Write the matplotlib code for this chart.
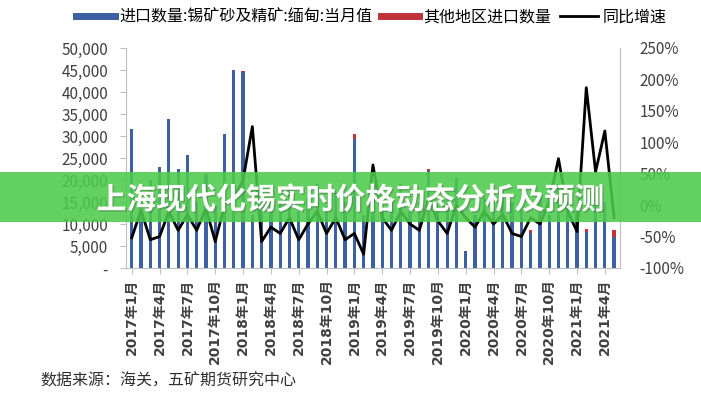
import numpy as np
import matplotlib.pyplot as plt
import matplotlib.patheffects as pe
from matplotlib.patches import Rectangle
from matplotlib.ticker import FuncFormatter

plt.rcParams['font.family'] = ['Noto Sans CJK SC', 'DejaVu Sans']

# monthly data 2017-01 .. 2021-05
months = [f"{y}年{m}月" for y in range(2017, 2022) for m in range(1, 13)][:53]
myanmar = [31600, 13000, 20000, 23000, 33900, 22400, 25700, 15000, 21300, 14000,
           30400, 44900, 44500, 12000, 18000, 14000, 15000, 18000, 13000, 16000,
           19000, 14000, 17000, 15000, 29300, 12000, 18000, 14000, 16000, 19000,
           13000, 15000, 22000, 14000, 17000, 20500, 3900, 12000, 16000, 14000,
           18000, 15000, 13000, 8000, 16000, 12000, 19000, 14000, 13000, 8200,
           17000, 15000, 7000]
others = [0, 0, 0, 0, 0, 0, 0, 0, 0, 0,
          0, 0, 300, 0, 0, 0, 0, 0, 0, 0,
          0, 0, 0, 0, 1200, 0, 0, 0, 0, 0,
          0, 0, 600, 0, 0, 0, 0, 0, 0, 0,
          0, 0, 0, 600, 0, 0, 0, 0, 0, 600,
          0, 0, 1600]
yoy = [-52, -8, -55, -50, -10, -40, -15, -40, -5, -58,
       0, 10, 40, 125, -58, -35, -45, -20, -55, -30,
       -10, -45, -20, -55, -45, -78, 64, -20, -40, -10,
       -30, -40, 10, -25, -45, 0, -20, -35, -10, -30,
       -15, -45, -50, -20, -30, 5, 74, -10, -42, 187,
       53, 118, -20]

x = np.arange(len(months))
blue = '#3D5FA3'
red = '#C0323C'

fig = plt.figure(figsize=(7.01, 4.0), dpi=100)
ax = fig.add_axes([0.18, 0.33, 0.704, 0.55])
ax.bar(x, myanmar, width=0.35, color=blue, zorder=2)
ax.bar(x, others, width=0.35, bottom=myanmar, color=red, zorder=2)
ax.set_xlim(-0.6, len(months) - 0.4)
ax.set_ylim(0, 50000)
ax.set_yticks(np.arange(0, 50001, 5000))
ax.yaxis.set_major_formatter(FuncFormatter(lambda v, p: '-' if v == 0 else f'{int(v):,}'))
ax.set_xticks(x[::3])
ax.set_xticklabels(months[::3], rotation=90, fontsize=10, color='#404040',
                   family=['DejaVu Sans', 'Noto Sans CJK SC'], fontweight='bold')
ax.tick_params(axis='y', labelsize=11, colors='#404040', length=4, color='#bfbfbf', pad=9)
ax.tick_params(axis='x', length=4, color='#bfbfbf')
for s in ['top', 'right']:
    ax.spines[s].set_visible(False)
for s in ['left', 'bottom']:
    ax.spines[s].set_color('#bfbfbf')

ax2 = ax.twinx()
ln, = ax2.plot(x, yoy, color='black', lw=2, zorder=3)
ax2.set_ylim(-100, 250)
ax2.set_yticks(np.arange(-100, 251, 50))
ax2.yaxis.set_major_formatter(FuncFormatter(lambda v, p: f'{int(v)}%'))
ax2.tick_params(axis='y', labelsize=11, colors='#404040', length=0, pad=14)
for s in ['top', 'left', 'bottom']:
    ax2.spines[s].set_visible(False)
ax2.spines['right'].set_color('#bfbfbf')

# legend
h1 = plt.Line2D([], [], color=blue, lw=5)
h2 = plt.Line2D([], [], color=red, lw=5)
fig.legend([h1, h2, ln], ['进口数量:锡矿砂及精矿:缅甸:当月值', '其他地区进口数量', '同比增速'],
           loc='center', bbox_to_anchor=(0.53, 0.957), ncol=3, frameon=False,
           fontsize=11.5, handlelength=2.4, handletextpad=0.3, columnspacing=0.5)

fig.text(0.057, 0.035, '数据来源：海关，五矿期货研究中心', fontsize=11.5, color='#303030')

# overlay banner
fig.patches.append(Rectangle((0, 0.445), 1, 0.125, transform=fig.transFigure,
                             facecolor='#4CCB4C', alpha=0.88, zorder=10))
fig.text(0.5, 0.5, '上海现代化锡实时价格动态分析及预测', ha='center', va='center',
         fontsize=21.5, fontweight='bold', color='white', zorder=11,
         path_effects=[pe.withSimplePatchShadow(offset=(1, -1), alpha=0.35)])

fig.savefig('out.png', dpi=100)
